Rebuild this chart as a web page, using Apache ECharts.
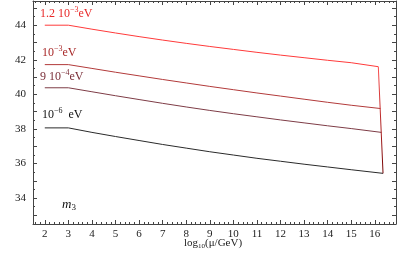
<!DOCTYPE html>
<html><head><meta charset="utf-8">
<script src="https://cdn.jsdelivr.net/npm/echarts@6/dist/echarts.min.js"></script>
<style>html,body{margin:0;padding:0;background:#fff}#c{width:409px;height:253px}</style>
</head><body><div id="c"></div>
<script>
var xTickLabels = [2,3,4,5,6,7,8,9,10,11,12,13,14,15,16];
var yTickLabels = [34,36,38,40,42,44];
var line12 = [[2,44.0],[3,44.0],[4,43.77],[5,43.55],[6,43.34],[7,43.14],[8,42.95],[9,42.77],[10,42.6],[11,42.43],[12,42.27],[13,42.12],[14,41.97],[15,41.83],[16.15,41.6]];
var line10 = [[2,41.72],[3,41.72],[4,41.5],[5,41.28],[6,41.07],[7,40.86],[8,40.66],[9,40.46],[10,40.27],[11,40.08],[12,39.9],[13,39.72],[14,39.54],[15,39.37],[16.24,39.18]];
var line9 = [[2,40.38],[3,40.38],[4,40.15],[5,39.92],[6,39.7],[7,39.48],[8,39.27],[9,39.07],[10,38.88],[11,38.7],[12,38.52],[13,38.35],[14,38.18],[15,38.02],[16.28,37.8]];
var line6 = [[2,38.06],[3,38.06],[4,37.8],[5,37.56],[6,37.33],[7,37.1],[8,36.89],[9,36.68],[10,36.49],[11,36.3],[12,36.13],[13,35.96],[14,35.8],[15,35.64],[16.35,35.43]];
var edge = [[16.15,41.6],[16.35,35.43]];

var XMIN=1.5, XMAX=16.9, YMIN=32.5, YMAX=45.4;
function range(a,b,s){var r=[];for(var v=a;v<=b+1e-9;v+=s)r.push(Math.round(v*100)/100);return r;}
var xMinor = range(1.6,16.8,0.2), yMinor = range(32.5,45.4,0.5), yMid = range(33,45,1);
var serif = 'Liberation Serif';
var axc = '#444';
function xa(pos, ticks, len, labels, line){
  return {type:'value',position:pos,min:XMIN,max:XMAX,splitLine:{show:false},
    axisLine:{show:line,onZero:false,lineStyle:{color:axc,width:1}},
    axisTick:{show:true,inside:true,length:len,customValues:ticks,lineStyle:{color:axc}},
    axisLabel:labels?{show:true,customValues:xTickLabels,fontFamily:serif,fontSize:11,color:'#222',margin:5}:{show:false}};
}
function ya(pos, ticks, len, labels, line){
  return {type:'value',position:pos,min:YMIN,max:YMAX,splitLine:{show:false},
    axisLine:{show:line,onZero:false,lineStyle:{color:axc,width:1}},
    axisTick:{show:true,inside:true,length:len,customValues:ticks,lineStyle:{color:axc}},
    axisLabel:labels?{show:true,customValues:yTickLabels,fontFamily:serif,fontSize:11,color:'#222',margin:7}:{show:false}};
}
var chart = echarts.init(document.getElementById('c'));
function ser(name,data,color){return {name:name,type:'line',data:data,symbol:'none',animation:false,lineStyle:{color:color,width:1},xAxisIndex:0,yAxisIndex:0};}
function lab(x,y,txt,color){
  return {type:'text',left:x,top:y,style:{text:txt,fill:color,
    rich:{s:{fontSize:8,fontFamily:serif,fill:color,verticalAlign:'bottom',padding:[0,0,7,0]},n:{fontSize:12,fontFamily:serif,fill:color}}}};
}
chart.setOption({
  animation:false,
  grid:{left:33,right:13,top:1,bottom:29,containLabel:false},
  xAxis:[xa('bottom',xTickLabels,4,true,true), xa('bottom',xMinor,2,false,false), xa('top',xTickLabels,4,false,true), xa('top',xMinor,2,false,false)],
  yAxis:[ya('left',yMid,4,true,true), ya('left',yMinor,2,false,false), ya('right',yMid,4,false,true), ya('right',yMinor,2,false,false)],
  series:[
    ser('1.2e-3',line12,'#ff3a3a'),
    ser('1e-3',line10,'#b23a3a'),
    ser('9e-4',line9,'#7e3c46'),
    ser('1e-6',line6,'#2a2a2a'),
    {name:'edge',type:'line',data:edge,symbol:'none',animation:false,xAxisIndex:0,yAxisIndex:0,
     lineStyle:{width:1,color:new echarts.graphic.LinearGradient(0,0,0,1,[{offset:0,color:'#ff5050'},{offset:1,color:'#700000'}])}}
  ],
  graphic:[
    lab(40,6,'{n|1.2 10}{s|−3}{n|eV}','#e82828'),
    lab(42,45,'{n|10}{s|−3}{n|eV}','#a82828'),
    lab(40,69,'{n|9 10}{s|−4}{n|eV}','#7a2e38'),
    lab(42,107,'{n|10}{s|−6}{n|  eV}','#111'),
    {type:'text',left:62,top:198,style:{text:'{m|m}{s|3}',rich:{m:{font:'italic 13px '+serif,fill:'#111'},s:{fontSize:9,fontFamily:serif,fill:'#111',verticalAlign:'top',padding:[6,0,0,0]}}}},
    {type:'text',left:184,top:238,style:{text:'{n|log}{s|10}{n|(μ/GeV)}',rich:{n:{fontSize:11,fontFamily:serif,fill:'#222'},s:{fontSize:7,fontFamily:serif,fill:'#222',verticalAlign:'top',padding:[6,0,0,0]}}}}
  ]
});
</script></body></html>
